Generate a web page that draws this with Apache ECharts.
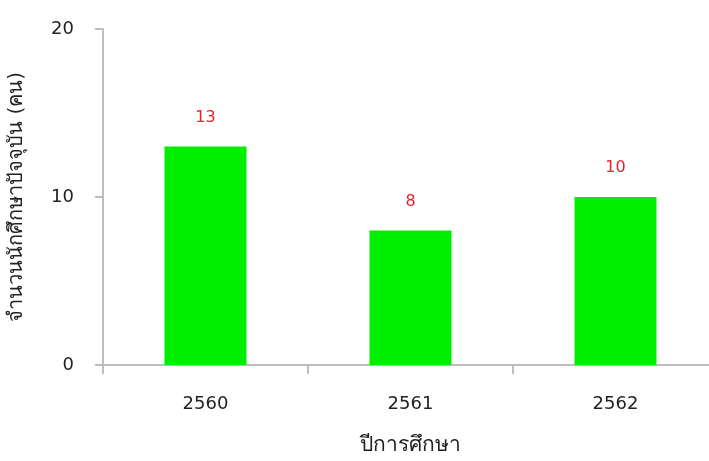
<!DOCTYPE html>
<html><head><meta charset="utf-8">
<script src="https://cdn.jsdelivr.net/npm/echarts@6/dist/echarts.min.js"></script>
<style>html,body{margin:0;padding:0;background:#fff}#c{width:709px;height:461px}</style>
</head><body><div id="c"></div>
<script>
const categories = ['2560', '2561', '2562'];
const values = [13, 8, 10];
const yTicks = [0, 10, 20];
const xName = 'ปีการศึกษา';
const yName = 'จำนวนนักศึกษาปัจจุบัน (คน)';

const FONT = 'DejaVu Sans, Noto Sans, sans-serif';
const chart = echarts.init(document.getElementById('c'), null, {renderer: 'canvas'});
chart.setOption({
  animation: false,
  grid: {left: 103, top: 29, bottom: 96, right: -9, containLabel: false, outerBoundsMode: 'none'},
  xAxis: {
    type: 'category', data: categories,
    name: xName, nameLocation: 'middle', nameGap: 70,
    nameTextStyle: {fontSize: 21, color: '#222', fontFamily: FONT},
    axisLine: {lineStyle: {color: '#bdbdbd', width: 2}},
    axisTick: {show: true, alignWithLabel: false, length: 9, lineStyle: {color: '#bdbdbd', width: 2}},
    axisLabel: {fontSize: 18, color: '#222', margin: 30, fontFamily: FONT}
  },
  yAxis: {
    type: 'value', min: yTicks[0], max: yTicks[yTicks.length - 1], interval: 10,
    name: yName, nameLocation: 'middle', nameGap: 76, nameRotate: 90,
    nameTextStyle: {fontSize: 20, color: '#222', fontFamily: FONT},
    axisLine: {show: true, lineStyle: {color: '#bdbdbd', width: 2}},
    axisTick: {show: true, length: 8, lineStyle: {color: '#bdbdbd', width: 2}},
    splitLine: {show: false},
    axisLabel: {fontSize: 18, color: '#222', margin: 29, fontFamily: FONT}
  },
  series: [{
    type: 'bar', data: values, barWidth: '40%',
    itemStyle: {color: '#00ee00'},
    label: {show: true, position: 'top', distance: 21, color: '#e8222a', fontSize: 16, fontFamily: FONT}
  }]
});
</script></body></html>
